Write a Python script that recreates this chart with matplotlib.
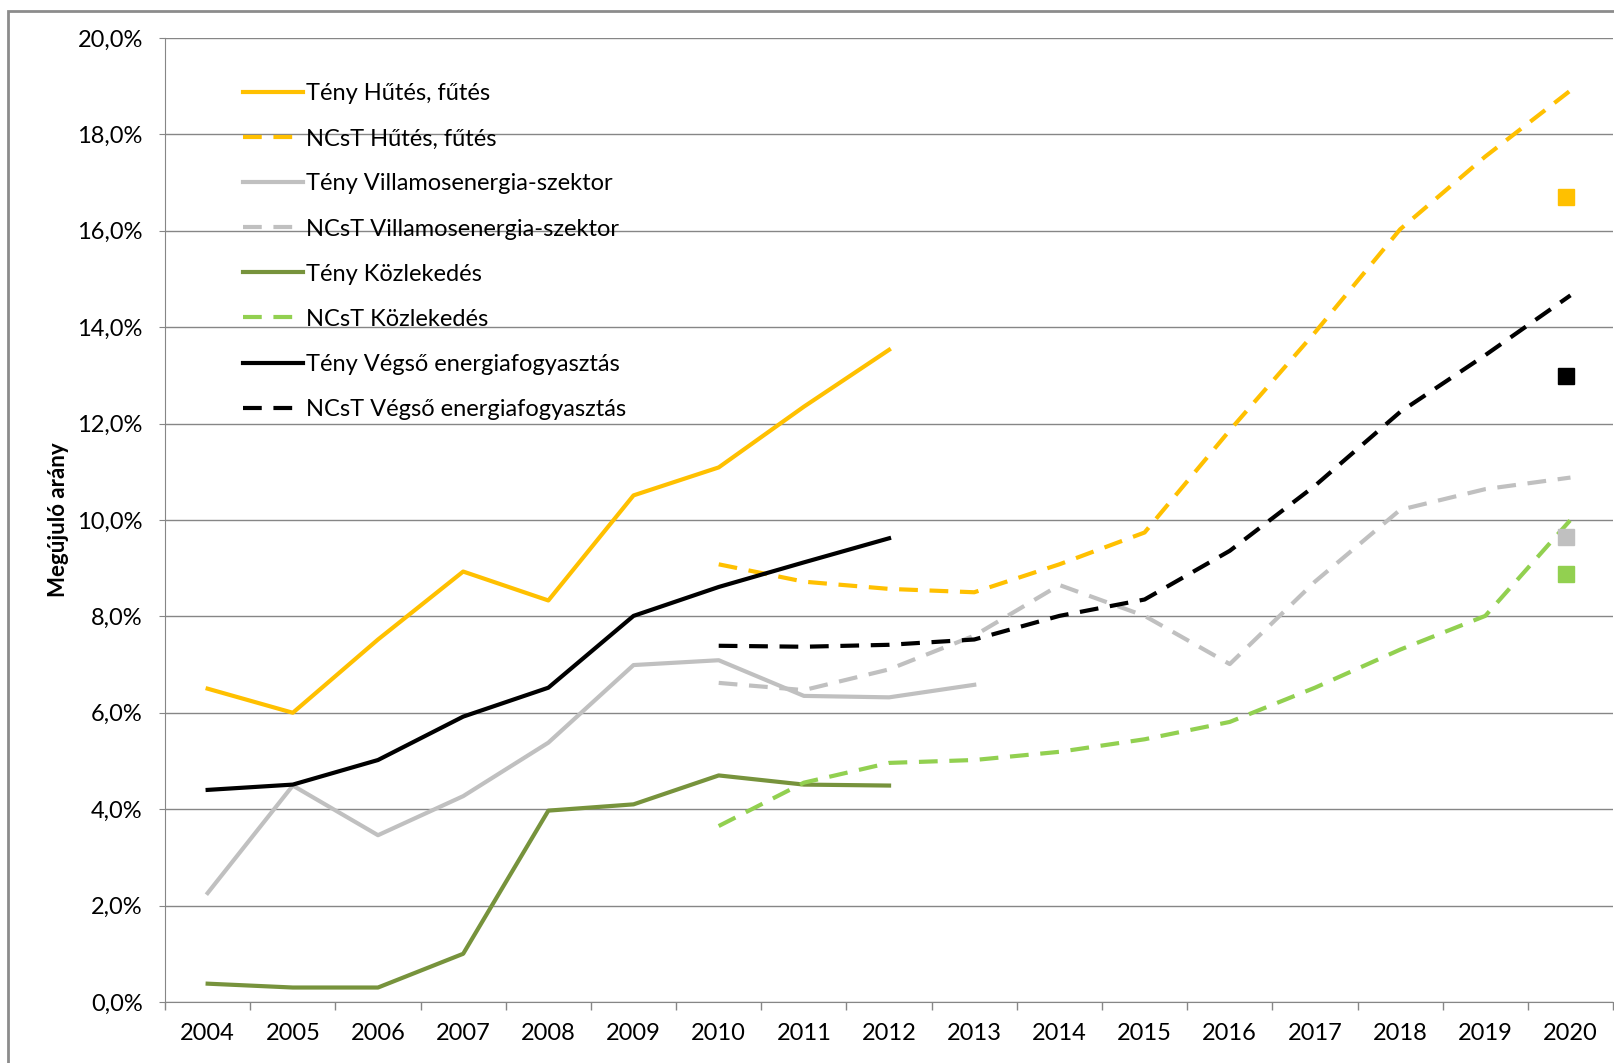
import numpy as np
import matplotlib.pyplot as plt
from matplotlib.ticker import FuncFormatter
from matplotlib.patches import Rectangle

plt.rcParams['font.family'] = ['Lato', 'DejaVu Sans']

years = [str(y) for y in range(2004, 2021)]

# Tény (actual) values, 2004-2012/2013
teny_hutes = [6.5, 6.0, 7.52, 8.93, 8.33, 10.51, 11.09, 12.35, 13.53]
teny_villamos = [2.26, 4.49, 3.46, 4.27, 5.38, 6.99, 7.09, 6.35, 6.32, 6.58]
teny_kozlekedes = [0.38, 0.3, 0.3, 1.0, 3.97, 4.1, 4.7, 4.51, 4.49]
teny_vegso = [4.40, 4.51, 5.02, 5.92, 6.52, 8.01, 8.61, 9.12, 9.62]

# NCsT (plan) values, 2010-2020
ncst_hutes = [9.08, 8.72, 8.57, 8.5, 9.08, 9.74, 11.86, 13.89, 16.03, 17.54, 18.91]
ncst_villamos = [6.62, 6.47, 6.9, 7.6, 8.65, 8.01, 7.01, 8.72, 10.21, 10.64, 10.88]
ncst_kozlekedes = [3.65, 4.55, 4.96, 5.02, 5.19, 5.45, 5.81, 6.52, 7.31, 8.01, 10.0]
ncst_vegso = [7.39, 7.37, 7.41, 7.52, 8.01, 8.35, 9.36, 10.71, 12.24, 13.42, 14.66]

# 2020 single points (squares)
pont_2020 = [16.7, 9.64, 8.87, 12.99]

c_hutes = '#FFC000'
c_vill = '#C0C0C0'
c_koz = '#77933C'
c_koz2 = '#92D050'
c_veg = '#000000'

fig = plt.figure(figsize=(16.15, 10.63), dpi=100)
ax = fig.add_axes([0.1022, 0.0574, 0.8966, 0.9069])

x_all = np.arange(len(years))
x_teny = x_all[:9]
x_ncst = x_all[6:]

lw = 3
dash = (0, (4.5, 2.8))
ax.plot(x_teny, teny_hutes, color=c_hutes, lw=lw, label='Tény Hűtés, fűtés')
ax.plot(x_ncst, ncst_hutes, color=c_hutes, lw=lw, ls=dash, label='NCsT Hűtés, fűtés')
ax.plot(x_all[:10], teny_villamos, color=c_vill, lw=lw, label='Tény Villamosenergia-szektor')
ax.plot(x_ncst, ncst_villamos, color=c_vill, lw=lw, ls=dash, label='NCsT Villamosenergia-szektor')
ax.plot(x_teny, teny_kozlekedes, color=c_koz, lw=lw, label='Tény Közlekedés')
ax.plot(x_ncst, ncst_kozlekedes, color=c_koz2, lw=lw, ls=dash, label='NCsT Közlekedés')
ax.plot(x_teny, teny_vegso, color=c_veg, lw=lw, label='Tény Végső energiafogyasztás')
ax.plot(x_ncst, ncst_vegso, color=c_veg, lw=lw, ls=dash, label='NCsT Végső energiafogyasztás')

sq_colors = [c_hutes, c_vill, c_koz2, c_veg]
for v, c in zip(pont_2020, sq_colors):
    ax.plot([x_all[-1] - 0.05], [v], marker='s', ms=11, color=c, mec=c, ls='none')

ax.set_xlim(-0.5, len(years) - 0.5)
ax.set_ylim(0, 20)
ax.set_yticks(np.arange(0, 21, 2))
ax.yaxis.set_major_formatter(FuncFormatter(lambda v, p: f'{v:.1f}%'.replace('.', ',')))
ax.grid(axis='y', color='#868686', lw=1)
ax.set_axisbelow(True)

ax.set_xticks(x_all)
ax.set_xticklabels(years)
ax.set_xticks(np.arange(-0.5, len(years), 1), minor=True)
ax.tick_params(axis='x', which='major', length=0, pad=15, labelsize=17)
ax.tick_params(axis='x', which='minor', length=6, color='#868686', width=1)
ax.tick_params(axis='y', length=4, color='#868686', pad=12, labelsize=17)

for s in ['top', 'right']:
    ax.spines[s].set_visible(False)
ax.spines['left'].set_color('#868686')
ax.spines['bottom'].set_color('#868686')

ax.set_ylabel('Megújuló arány', fontsize=16, fontweight='bold', labelpad=6)

leg = ax.legend(loc='upper left', bbox_to_anchor=(0.0395, 0.975), frameon=False,
                fontsize=17, handlelength=2.5, handletextpad=0.15, labelspacing=1.02)

fig.patches.append(Rectangle((0.005, -0.1), 1.2, 0.1 + 0.9897, transform=fig.transFigure,
                             fill=False, edgecolor='#8c8c8c', lw=2))

fig.savefig('out.png', dpi=100)
